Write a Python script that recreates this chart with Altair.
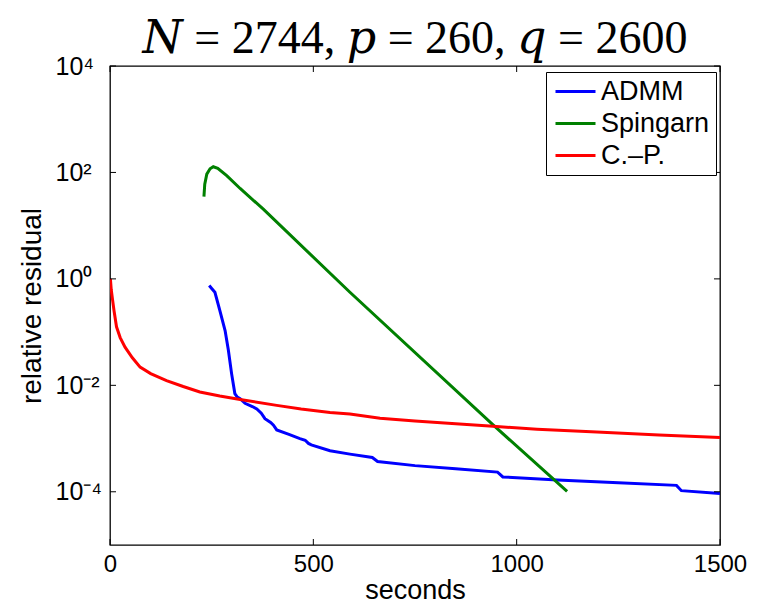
import altair as alt
import pandas as pd

series_names = ["ADMM", "Spingarn", "C.\u2013P."]
series_colors = ["#0000ff", "#008000", "#ff0000"]

# ADMM (blue)
admm_t = [244, 250, 258, 270, 283, 291, 299, 307, 313, 320, 332, 350, 361, 372, 381, 395, 402,
          410, 440, 467, 480, 488, 495, 541, 590, 645, 658, 750, 850, 953, 966, 1100, 1250,
          1393, 1405, 1500]
admm_v = [0.75, 0.66, 0.56, 0.255, 0.107, 0.046, 0.0166, 0.0070, 0.0060, 0.0056, 0.0046,
          0.0040, 0.0036, 0.0030, 0.00237, 0.0020, 0.00178, 0.00145, 0.0012, 0.0010, 0.00093,
          0.00081, 0.00076, 0.00059, 0.00051, 0.00044, 0.00037, 0.00031, 0.00027, 0.000234,
          0.00019, 0.000166, 0.000148, 0.000132, 0.000105, 0.000093]

# Spingarn (green)
sping_t = [231, 233, 238, 246, 254, 265, 287, 320, 377, 590, 942, 1124]
sping_v = [35, 60, 93, 117, 128, 120, 87, 50, 20.4, 0.56, 0.0018, 0.000102]

# C.-P. (red)
cp_t = [1, 3, 6.6, 10, 16, 25, 37, 55, 74, 100, 139, 180, 221, 270, 320, 410, 470, 541, 590,
        664, 750, 850, 942, 1050, 1197, 1350, 1500]
cp_v = [1.0, 0.63, 0.39, 0.25, 0.126, 0.079, 0.052, 0.033, 0.022, 0.0166, 0.0123, 0.0095,
        0.0075, 0.0063, 0.0054, 0.0042, 0.0036, 0.0031, 0.0029, 0.0024, 0.00214, 0.0019,
        0.0017, 0.0015, 0.00133, 0.00117, 0.00105]

x_ticks = [0, 500, 1000, 1500]
y_ticks = [1e4, 1e2, 1e0, 1e-2, 1e-4]

rows = []
for name, ts, vs in [(series_names[0], admm_t, admm_v),
                     (series_names[1], sping_t, sping_v),
                     (series_names[2], cp_t, cp_v)]:
    for t, v in zip(ts, vs):
        rows.append({"series": name, "t": t, "v": v})
df = pd.DataFrame(rows)

W, H = 610, 479
xs = alt.Scale(domain=[0, 1500], nice=False, zero=False)
ys = alt.Scale(type="log", domain=[1e-5, 1e4], nice=False)

label_expr = ("(round(log(datum.value)/LN10) == 4) ? '10\u2074' : "
              "(round(log(datum.value)/LN10) == 2) ? '10\u00b2' : "
              "(round(log(datum.value)/LN10) == 0) ? '10\u2070' : "
              "(round(log(datum.value)/LN10) == -2) ? '10\u207b\u00b2' : '10\u207b\u2074'")

lines = alt.Chart(df).mark_line(strokeWidth=3, clip=True).encode(
    x=alt.X("t:Q", scale=xs,
            axis=alt.Axis(title="seconds", values=x_ticks, labelPadding=7,
                          labelFlush=False, titlePadding=1, format="d",
                          labelFontSize=24, titleFontSize=27)),
    y=alt.Y("v:Q", scale=ys,
            axis=alt.Axis(title="relative residual", values=y_ticks, labelExpr=label_expr,
                          labelAlign="left", labelPadding=55, labelBaseline="middle",
                          labelFlush=False, labelOverlap=False, titlePadding=9,
                          labelFontSize=25, titleFontSize=28)),
    color=alt.Color("series:N",
                    scale=alt.Scale(domain=series_names, range=series_colors),
                    sort=series_names,
                    legend=alt.Legend(title=None, orient="none", legendX=436, legendY=6,
                                      padding=6, strokeColor="black", fillColor="white",
                                      labelFont="Liberation Sans", labelFontSize=27,
                                      labelColor="black", symbolType="M-1,0H3",
                                      symbolSize=400, symbolStrokeWidth=3,
                                      labelOffset=22, rowPadding=4)),
)

xt_df = pd.DataFrame({"t": x_ticks})
yt_df = pd.DataFrame({"v": y_ticks})

tick_bottom = alt.Chart(xt_df).mark_rule(color="black", strokeWidth=1).encode(
    x=alt.X("t:Q", scale=xs), y=alt.value(H), y2=alt.value(H - 6))
tick_top = alt.Chart(xt_df).mark_rule(color="black", strokeWidth=1).encode(
    x=alt.X("t:Q", scale=xs), y=alt.value(0), y2=alt.value(6))
tick_left = alt.Chart(yt_df).mark_rule(color="black", strokeWidth=1).encode(
    y=alt.Y("v:Q", scale=ys), x=alt.value(0), x2=alt.value(6))
tick_right = alt.Chart(yt_df).mark_rule(color="black", strokeWidth=1).encode(
    y=alt.Y("v:Q", scale=ys), x=alt.value(W - 6), x2=alt.value(W))

chart = alt.layer(lines, tick_bottom, tick_top, tick_left, tick_right).properties(
    width=W, height=H,
    title=alt.Title("\U0001D441 = 2744, \U0001D45D = 260, \U0001D45E = 2600",
                    font="Liberation Serif, DejaVu Serif", fontSize=46, fontWeight="normal",
                    anchor="middle", offset=-9, color="black"),
    padding={"left": 102, "top": 58, "right": 35, "bottom": 61},
    autosize=alt.AutoSizeParams(type="none"),
).configure_view(
    stroke="black", strokeWidth=1.3
).configure_axis(
    domain=False, ticks=False, grid=False,
    labelFont="Liberation Sans", titleFont="Liberation Sans",
    labelColor="black", titleColor="black",
    titleFontWeight="normal"
)

chart.save("out.html", embed_options={"renderer": "svg", "actions": False})
